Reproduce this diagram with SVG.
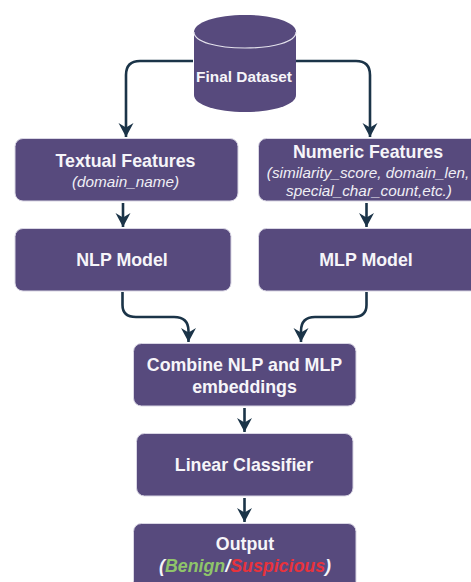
<svg xmlns="http://www.w3.org/2000/svg" width="471" height="582" viewBox="0 0 471 582">
<style>
.box{fill:#574a7d;stroke:#d9d6e4;stroke-width:1}
.t{font-family:"Liberation Sans",Arial,sans-serif;font-weight:700;font-size:17.800px;fill:#f6f5f9;text-anchor:middle}
.s{font-family:"Liberation Sans",Arial,sans-serif;font-style:italic;font-size:15.300px;fill:#f0eff5;text-anchor:middle}
.c{fill:none;stroke:#1b3448;stroke-width:2.600}
</style>
<defs>
<marker id="a" markerUnits="userSpaceOnUse" markerWidth="16" markerHeight="16" refX="14" refY="8" orient="auto" viewBox="0 0 16 16"><path d="M0 0.500L4.500 8L0 15.500L14 8Z" fill="#1b3448"/></marker>
</defs>
<rect width="471" height="582" fill="#fff"/>
<g id="connectors">
<path class="c" d="M193 61H140Q126 61 126 75V137" marker-end="url(#a)"/>
<path class="c" d="M296 61H356Q370 61 370 75V137" marker-end="url(#a)"/>
<path class="c" d="M123 203V227" marker-end="url(#a)"/>
<path class="c" d="M366.500 203V227" marker-end="url(#a)"/>
<path class="c" d="M122.500 292V305Q122.500 317 136 317H174Q188.500 317 188.500 331V342" marker-end="url(#a)"/>
<path class="c" d="M366.500 292V305Q366.500 317 353 317H315Q301 317 301 331V342" marker-end="url(#a)"/>
<path class="c" d="M244.500 408V432" marker-end="url(#a)"/>
<path class="c" d="M244.500 498V522" marker-end="url(#a)"/>
</g>
<g id="final-dataset">
<path d="M194 32C194 22 217 15 245 15S296 22 296 32V95C296 105 273 112 245 112S194 105 194 95Z" fill="#574a7d"/>
<path d="M194 32C194 42 217 48 245 48S296 42 296 32" fill="none" stroke="#e4e2ec" stroke-width="1.200"/>
<text class="t" x="244" y="82" style="font-size:15.400px">Final Dataset</text>
</g>
<g id="textual-features">
<rect class="box" x="15" y="138.500" width="223" height="62.500" rx="8"/>
<text class="t" x="125.500" y="167">Textual Features</text>
<text class="s" x="125.500" y="187">(domain_name)</text>
</g>
<g id="numeric-features">
<rect class="box" x="258.500" y="138.500" width="220" height="62.500" rx="8"/>
<text class="t" x="368" y="158">Numeric Features</text>
<text class="s" x="368" y="178">(similarity_score, domain_len,</text>
<text class="s" x="369" y="195.500">special_char_count,etc.)</text>
</g>
<g id="nlp-model">
<rect class="box" x="15" y="228.500" width="216" height="62.500" rx="8"/>
<text class="t" x="122" y="266">NLP Model</text>
</g>
<g id="mlp-model">
<rect class="box" x="258.500" y="228.500" width="220" height="62.500" rx="8"/>
<text class="t" x="366" y="266">MLP Model</text>
</g>
<g id="combine">
<rect class="box" x="133.500" y="343.500" width="222.500" height="62.500" rx="8"/>
<text class="t" x="244.500" y="370.500">Combine NLP and MLP</text>
<text class="t" x="244.500" y="392.500">embeddings</text>
</g>
<g id="linear-classifier">
<rect class="box" x="136.500" y="433.500" width="216.500" height="62.500" rx="8"/>
<text class="t" x="244" y="470.500">Linear Classifier</text>
</g>
<g id="output">
<rect class="box" x="133.500" y="523.500" width="222.500" height="66" rx="8"/>
<text class="t" x="245" y="550">Output</text>
<text class="t" x="245" y="571.500" style="font-style:italic">(<tspan fill="#8fc46a">Benign</tspan>/<tspan fill="#e8323c">Suspicious</tspan>)</text>
</g>
</svg>
